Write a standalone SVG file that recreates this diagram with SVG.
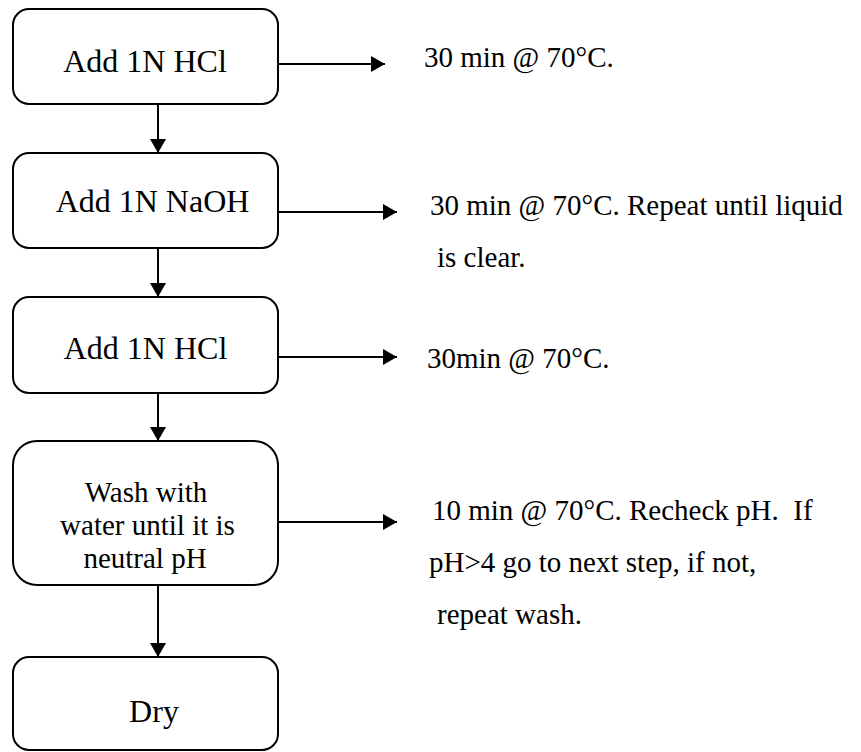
<svg xmlns="http://www.w3.org/2000/svg" width="861" height="752" viewBox="0 0 861 752">
<style>
.box{fill:#fff;stroke:#000;stroke-width:2}
.t{font-family:"Liberation Serif","Times New Roman",serif;fill:#000}
.bt{font-size:32px;text-anchor:middle}
.wt{font-size:29px;text-anchor:middle}
.st{font-size:29px}
.c{stroke:#000;stroke-width:2;fill:none;marker-end:url(#ah)}
</style>
<defs>
<marker id="ah" markerUnits="userSpaceOnUse" markerWidth="15" markerHeight="16" refX="14" refY="8" orient="auto">
<path d="M0,0 L14,8 L0,16 Z" fill="#000"/>
</marker>
</defs>
<rect width="861" height="752" fill="#fff"/>
<g id="connectors">
<line class="c" x1="267" y1="64" x2="385" y2="64"/>
<line class="c" x1="158" y1="105" x2="158" y2="153"/>
<line class="c" x1="278" y1="212" x2="397" y2="212"/>
<line class="c" x1="158" y1="249" x2="158" y2="297"/>
<line class="c" x1="278" y1="357" x2="397" y2="357"/>
<line class="c" x1="158" y1="393" x2="158" y2="441"/>
<line class="c" x1="278" y1="522" x2="397" y2="522"/>
<line class="c" x1="158" y1="585" x2="158" y2="657"/>
</g>
<g id="n1">
<rect class="box" x="13" y="9" width="265" height="95" rx="16"/>
<text class="t bt" x="145" y="72">Add 1N HCl</text>
</g>
<g id="n2">
<rect class="box" x="13" y="153" width="265" height="95" rx="16"/>
<text class="t bt" x="152.5" y="212">Add 1N NaOH</text>
</g>
<g id="n3">
<rect class="box" x="13" y="297" width="265" height="96" rx="16"/>
<text class="t bt" x="145.5" y="359">Add 1N HCl</text>
</g>
<g id="n4">
<rect class="box" x="13" y="441" width="265" height="144" rx="24"/>
<text class="t wt" x="146" y="502">Wash with</text>
<text class="t wt" x="147.5" y="535">water until it is</text>
<text class="t wt" x="145" y="568">neutral pH</text>
</g>
<g id="n5">
<rect class="box" x="13" y="657" width="265" height="93" rx="16"/>
<text class="t bt" x="154" y="722">Dry</text>
</g>
<g id="notes">
<text class="t st" x="424" y="67">30 min @ 70°C.</text>
<text class="t st" x="430" y="215">30 min @ 70°C. Repeat until liquid</text>
<text class="t st" x="437" y="267">is clear.</text>
<text class="t st" x="427" y="368">30min @ 70°C.</text>
<text class="t st" x="432" y="520" xml:space="preserve">10 min @ 70°C. Recheck pH.  If</text>
<text class="t st" x="429" y="572">pH&gt;4 go to next step, if not,</text>
<text class="t st" x="437" y="624">repeat wash.</text>
</g>
</svg>
